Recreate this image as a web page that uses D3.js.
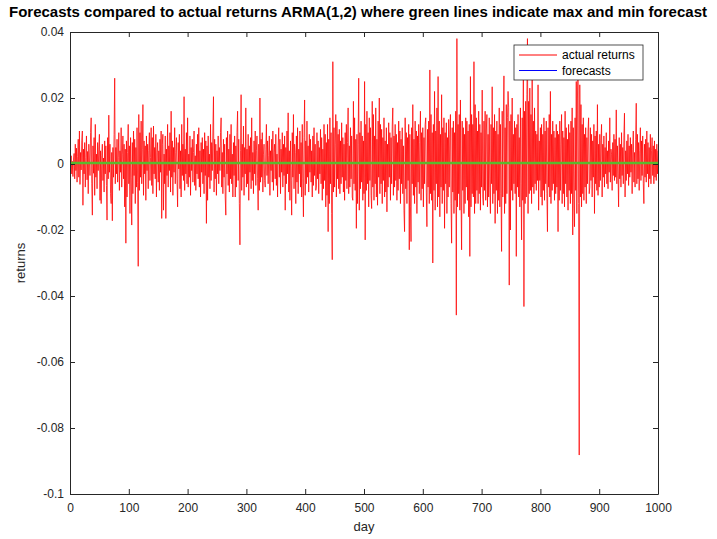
<!DOCTYPE html>
<html>
<head>
<meta charset="utf-8">
<title>ARMA(1,2) forecasts</title>
<script src="https://d3js.org/d3.v7.min.js"></script>
<style>
    body { margin: 0; background: #fff; }
    text { font-family: "Liberation Sans", Arial, Helvetica, sans-serif; fill: #262626; }
    .axis path, .axis line { stroke: #262626; }
    .title { font-size: 15px; font-weight: bold; fill: #000; }
    .label { font-size: 13px; }
    .legend-text { font-size: 12px; fill: #000; }
</style>
</head>
<body>
<svg id="chart" width="717" height="539"></svg>
<script>
// daily actual returns, in basis points (1 bp = 0.0001), days 1..1000
const returnsBp = [
    -12, 25, -30, 8, -38, 15, 32, -45, 60, -20, 48, -55, 22, 75, -40, 100, -62, 35, -18, 70, 100, -125, 45, -30, 65,
    -70, 20, 85, -48, 38, -90, 60, 12, -35, 95, 140, -60, -155, 55, -28, 80, -95, 120, -40, 30, -75, 65, -20, 45, 90,
    -110, 40, -120, 25, 60, -50, 18, -85, 70, -30, 55, -65, -170, 80, -45, 148, -25, 60, -90, -120, 35, -172, 50, -40, 90,
    260, -60, 50, -30, 75, -55, 20, 95, -80, 40, -25, 110, -70, 30, 85, -45, 60, -130, 45, -240, 70, -100, 35, 120, -60,
    55, -150, 80, -40, -185, 65, -90, 100, -35, 75, -120, 50, -70, 110, -55, -310, 150, -80, 95, -40, 130, -60, 45, 180, -95,
    70, -30, 55, -110, 85, -20, 60, -75, 40, 95, -50, 20, 110, -65, 80, -90, 115, -30, 50, -45, 90, -100, 35, 65, -55,
    40, -80, 75, -25, 100, -165, 60, 90, -140, 30, -60, 85, -165, 45, -35, 120, -70, 55, -20, 95, -85, 160, -40, 70, -95,
    50, -25, 110, -60, 35, 80, -45, -130, 65, -15, 90, -75, 40, -100, 120, -35, 60, -50, 204, -80, 45, -30, 95, -60, 140,
    -70, 30, -40, 85, -95, 50, -20, 75, -55, 35, 100, -65, 25, -80, 60, -30, 90, -45, 110, -70, 40, -100, 65, -25, 80,
    -60, 45, -90, 95, -35, 70, -180, 55, -110, 85, -40, 30, -75, 120, -50, 65, -20, 100, 204, -85, 75, -45, 60, -95, 40,
    -30, 85, -60, 50, -20, 95, 140, -70, 35, -90, 75, -40, 60, -100, -155, 80, -30, 100, -65, 45, -85, 90, -45, 120, -60,
    30, -100, 65, -35, 85, -100, 55, -70, 95, 160, -50, 75, -120, -245, 40, 210, -80, 60, -40, 115, -95, 50, -30, 170, -70,
    45, -60, 90, -110, 55, -25, 80, -75, 140, -50, 35, -90, 70, -30, 100, -65, 40, 85, -45, -140, 60, -80, 200, -55, 75,
    -40, 95, -85, 30, 60, -50, -70, 45, 120, -35, 70, -60, 25, 85, -95, 40, -20, 75, -55, 100, -80, 35, 60, -45, 90,
    -65, 30, -100, 55, 110, -40, 75, -90, 45, -25, 95, -70, 60, -35, 85, -140, 50, -60, 100, -30, 155, -85, 40, -110, 70,
    -50, -155, 95, -40, 150, -75, 60, 35, -120, 85, -55, 110, -90, 45, -30, 100, -70, 65, -100, 120, -45, -160, 80, 194, -95,
    70, -60, 130, -40, 55, -85, 90, -25, 75, -55, 40, -100, 85, -65, 110, -35, 60, -80, -70, 95, -45, 70, -90, 50, -30,
    105, -60, 80, -110, 45, -75, 120, -50, 90, -130, 65, -95, 120, -205, 75, -120, 140, -60, 95, -150, -290, 310, -85, 110, -70,
    60, 150, -100, 130, -45, 90, -75, 105, -90, 70, -60, 125, -40, 80, -85, 60, -110, 95, -50, 120, -75, 65, 170, -90, 55,
    -70, 110, -45, 85, -100, -110, 190, -60, 140, -80, 75, -195, 90, -120, 60, 260, -140, 95, -75, 130, -55, 85, -110, 70, -90,
    250, -230, 120, -80, 160, -60, 95, -130, 140, -50, 110, -95, -135, 190, -70, 150, -110, 85, -60, 170, -100, 75, -125, 130, -40,
    200, -90, 120, -60, 105, -120, 80, -50, 140, -100, 70, -85, 110, -145, 60, -70, 125, -40, 95, -110, 80, -60, 115, 170, -95,
    85, -70, 120, -50, 90, -110, 65, -80, 130, -45, 100, -120, 75, -60, 110, -90, 55, -140, -205, 140, -75, 95, -120, 80, -50,
    120, -260, 90, -130, -235, 110, -60, 180, -95, 75, -120, 130, -70, 100, -150, 85, -55, 120, -90, 65, 160, -110, 95, -75, 110,
    -130, 80, -60, 120, 140, -85, -190, 105, -70, 130, -120, 285, -90, 150, -110, 95, -300, 120, -80, 220, -140, 100, -60, 170, -130,
    265, -100, 130, -160, 90, -70, 210, -120, 110, -80, 140, -195, 95, -60, 125, -150, 80, -100, 135, -70, 90, 150, -120, -240, 110,
    -85, 130, -150, 95, -110, 160, -458, 380, -130, 120, -90, 150, -140, 194, -100, -260, 130, -80, 110, -150, 90, -120, 140, -70, 130,
    -110, 100, -160, 120, -280, 265, -130, 150, -90, 120, -100, 310, -150, 180, -120, 140, -80, 100, -120, 160, -90, 120, -140, 95, -70,
    224, -100, -125, 130, -80, 160, -110, 100, 150, -130, 90, -100, 140, -70, -150, 120, -60, 234, -120, 110, -90, 150, -180, 100, -80,
    130, -150, 90, -110, 170, -130, 120, -90, -265, 160, -100, 130, 267, -150, 110, -120, 180, -90, 140, 220, 170, -367, 130, -200, 150,
    -80, 200, -110, 90, -60, 130, -90, 110, -280, 120, -70, 150, -100, 80, -130, 170, -60, -230, 140, -110, 260, -432, 160, -120, 190,
    -100, 210, 380, -150, 190, -90, 230, -80, 150, -120, 260, -70, 130, -90, 170, -60, 100, -80, 90, -50, 240, -140, 70, -50, 110,
    -100, 120, -125, 90, -80, 140, -110, 100, -60, 130, -90, -205, 110, -70, 150, -100, 220, -120, 90, -80, 130, -60, 100, -110, 80,
    -90, 120, -70, 100, -205, 90, -110, 130, -80, 60, 150, -120, 100, -90, 80, -130, 160, -60, 110, -100, 75, -140, 120, -80, 95,
    -120, 130, -90, 170, -215, 110, -100, -190, 140, -80, 250, -150, 200, 300, -120, -882, 240, -100, 180, -130, 120, -90, 140, -110, 90,
    -70, 110, -120, 80, -60, 100, 140, -90, -70, 110, -50, 90, -100, 70, -40, 120, -150, 85, -60, 100, -80, 180, -95, 60, -70,
    90, -50, 70, 120, -100, 60, -40, 85, -70, 50, -30, 95, -60, 40, -75, 70, -25, 140, -55, 45, 30, -80, 65, -35, 90,
    -50, 75, -40, 164, -60, 55, -30, -130, 80, -45, 60, -70, 95, -35, 50, -60, 85, 154, -100, 40, -50, 70, -30, 90, -65,
    55, -40, 80, -25, 60, -90, 45, 100, -55, 35, -70, 75, 184, -60, 90, -45, 65, -80, 40, 110, -50, 70, -35, 85, -60,
    -120, 60, -40, 75, -55, 100, -30, 65, -70, 50, -45, 90, -60, 40, 80, -35, 55, -60, 70, -40, 45, -50, 60, -30, 40
];

// ARMA(1,2) forecasts read at a few days, and their max / min
const forecastDays = [1, 100, 200, 300, 400, 500, 600, 700, 800, 900, 1000];
const forecastValues = [0.0004, 0.0003, 0.0003, 0.0002, 0.0003, 0.0003, 0.0002, 0.0003, 0.0003, 0.0002, 0.0003];
const maxForecast = 0.0005;
const minForecast = 0.0001;

const xTicks = [0, 100, 200, 300, 400, 500, 600, 700, 800, 900, 1000];
const yTicks = [-0.1, -0.08, -0.06, -0.04, -0.02, 0, 0.02, 0.04];
const yTickLabels = ["-0.1", "-0.08", "-0.06", "-0.04", "-0.02", "0", "0.02", "0.04"];

const titleText = "Forecasts compared to actual returns ARMA(1,2) where green lines indicate max and min forecast";
const legendLabels = ["actual returns", "forecasts"];

const returns = returnsBp.map((v, i) => ({ day: i + 1, value: v / 10000 }));
const forecasts = forecastDays.map((d, i) => ({ day: d, value: forecastValues[i] }));

const margin = { top: 32, right: 59, bottom: 45, left: 70 };
const width = 717, height = 539;

const x = d3.scaleLinear().domain([0, 1000]).range([margin.left, width - margin.right]);
const y = d3.scaleLinear().domain([-0.1, 0.04]).range([height - margin.bottom, margin.top]);

const svg = d3.select("#chart");

svg.append("defs").append("clipPath").attr("id", "plot-clip")
    .append("rect")
    .attr("x", x(0)).attr("y", y(0.04))
    .attr("width", x(1000) - x(0)).attr("height", y(-0.1) - y(0.04));

const plot = svg.append("g").attr("clip-path", "url(#plot-clip)");

const line = d3.line().x(d => x(d.day)).y(d => y(d.value));

plot.append("path")
    .datum(returns)
    .attr("fill", "none")
    .attr("stroke", "#ff0000")
    .attr("stroke-width", 0.75)
    .attr("d", line);

plot.append("path")
    .datum(forecasts)
    .attr("fill", "none")
    .attr("stroke", "#0000ff")
    .attr("stroke-width", 1)
    .attr("d", line);

[maxForecast, minForecast].forEach(v => {
    plot.append("line")
        .attr("x1", x(0)).attr("x2", x(1000))
        .attr("y1", y(v)).attr("y2", y(v))
        .attr("stroke", "#5cb82e")
        .attr("stroke-width", 1.4);
});

// axes with ticks pointing inward on all four sides
svg.append("g").attr("class", "axis")
    .attr("transform", `translate(0,${y(-0.1)})`)
    .call(d3.axisBottom(x).tickValues(xTicks).tickFormat(d3.format("d"))
        .tickSizeInner(-5).tickSizeOuter(0).tickPadding(9))
    .call(g => g.selectAll("text").attr("font-size", 12).style("fill", "#262626"));

svg.append("g").attr("class", "axis")
    .attr("transform", `translate(${x(0)},0)`)
    .call(d3.axisLeft(y).tickValues(yTicks).tickFormat((d, i) => yTickLabels[i])
        .tickSizeInner(-5).tickSizeOuter(0).tickPadding(6))
    .call(g => g.selectAll("text").attr("font-size", 12).style("fill", "#262626"));

svg.append("g").attr("class", "axis")
    .attr("transform", `translate(0,${y(0.04)})`)
    .call(d3.axisTop(x).tickValues(xTicks).tickFormat("").tickSizeInner(-5).tickSizeOuter(0));

svg.append("g").attr("class", "axis")
    .attr("transform", `translate(${x(1000)},0)`)
    .call(d3.axisRight(y).tickValues(yTicks).tickFormat("").tickSizeInner(-5).tickSizeOuter(0));

svg.selectAll(".axis text").attr("font-family", "Liberation Sans, Arial, sans-serif");

svg.append("text")
    .attr("class", "title")
    .attr("x", 358)
    .attr("y", 17)
    .attr("text-anchor", "middle")
    .text(titleText);

svg.append("text")
    .attr("class", "label")
    .attr("x", (x(0) + x(1000)) / 2)
    .attr("y", 531)
    .attr("text-anchor", "middle")
    .text("day");

svg.append("text")
    .attr("class", "label")
    .attr("transform", `translate(25,${(y(0.04) + y(-0.1)) / 2}) rotate(-90)`)
    .attr("text-anchor", "middle")
    .text("returns");

// legend
const legend = svg.append("g").attr("transform", "translate(514,45)");
legend.append("rect")
    .attr("width", 129).attr("height", 35)
    .attr("fill", "#fff")
    .attr("stroke", "#262626")
    .attr("stroke-width", 0.8);

const legendColors = ["#ff0000", "#0000ff"];
legendLabels.forEach((lab, i) => {
    const ly = 10 + i * 15.5;
    legend.append("line")
        .attr("x1", 5).attr("x2", 43)
        .attr("y1", ly).attr("y2", ly)
        .attr("stroke", legendColors[i])
        .attr("stroke-width", 1);
    legend.append("text")
        .attr("class", "legend-text")
        .attr("x", 48).attr("y", ly + 4)
        .text(lab);
});
</script>
</body>
</html>
